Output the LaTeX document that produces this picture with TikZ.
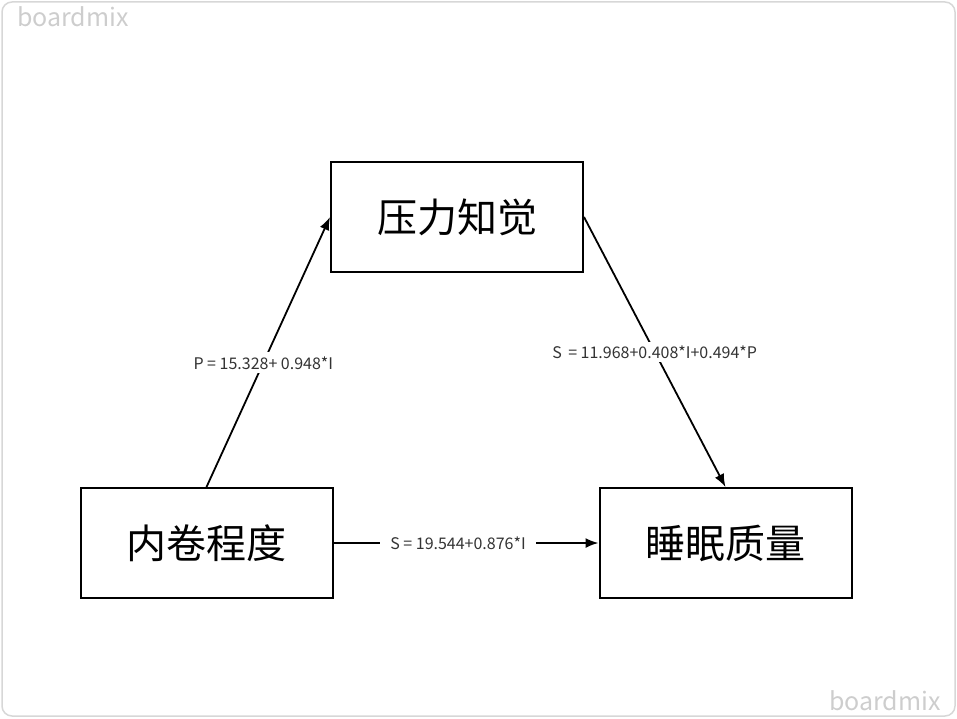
\documentclass[tikz,border=0pt]{standalone}
\usepackage{fontspec}
\newfontfamily\cjk{Noto Sans CJK SC}
\usetikzlibrary{arrows.meta}
\definecolor{markgray}{RGB}{205,205,205}
\definecolor{framegray}{RGB}{215,215,215}
\tikzset{>={Latex[length=13pt,width=10pt]}}
\tikzset{var/.style={draw, line width=2pt, minimum width=252pt, minimum height=110pt, inner sep=0pt, font=\cjk\fontsize{40}{44}\selectfont}}
\tikzset{eq/.style={fill=white, inner sep=4pt, font=\cjk\fontsize{16}{18}\selectfont, text=black!80}}
\tikzset{wmark/.style={text=markgray, inner sep=0pt, font=\cjk\fontsize{25}{27}\selectfont}}

\begin{document}
\begin{tikzpicture}[x=1pt, y=-1pt]
        \useasboundingbox (0,0) rectangle (957,719);
        \draw[framegray, line width=1.5pt, rounded corners=10pt] (2,2) rectangle (955,716);

        \node[wmark, anchor=west] (wm1) at (17,17) {boardmix};
        \node[wmark, anchor=east] (wm2) at (941,701) {boardmix};

        \node[var] (stress) at (457,217) {压力知觉};
        \node[var] (inv) at (206.5,543) {内卷程度};
        \node[var] (sleep) at (725.5,543) {睡眠质量};

        \draw[->, line width=1.8pt] (inv.north) -- (stress.west)
         node[eq, pos=0.46] (e1) {P = 15.328+ 0.948*I};
        \draw[->, line width=1.8pt] (stress.east) -- (sleep.north)
         node[eq, midway, inner xsep=1pt] (e2) {S\ \,= 11.968+0.408*I+0.494*P};
        \draw[->, line width=1.8pt] (inv.east) -- (sleep.west)
         node[eq, midway, xshift=-8pt, inner xsep=10pt] (e3) {S = 19.544+0.876*I};
\end{tikzpicture}
\end{document}
